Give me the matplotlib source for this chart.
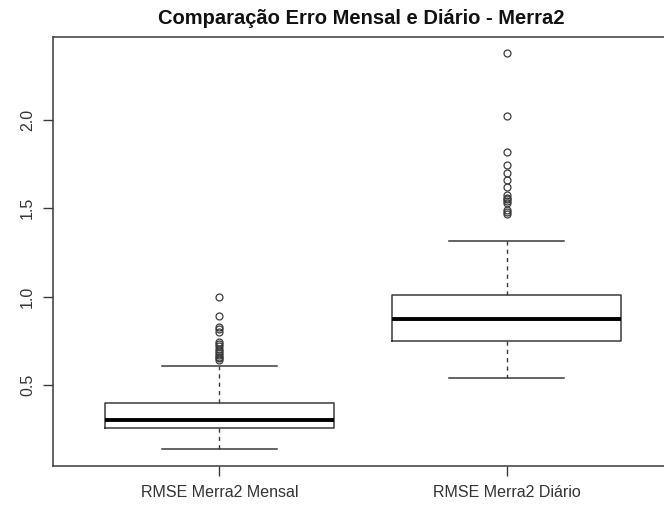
import matplotlib
matplotlib.use("Agg")
import matplotlib.pyplot as plt

# box statistics (R boxplot)
labels = ["RMSE Merra2 Mensal", "RMSE Merra2 Diário"]
q1 = [0.255, 0.751]
med = [0.300, 0.874]
q3 = [0.400, 1.011]
whislo = [0.136, 0.540]
whishi = [0.607, 1.317]
fliers_mensal = [1.00, 0.892, 0.83, 0.815, 0.80, 0.745, 0.73, 0.72, 0.705,
                 0.69, 0.68, 0.67, 0.66, 0.65, 0.64]
fliers_diario = [2.377, 2.02, 1.82, 1.745, 1.70, 1.66, 1.62, 1.575, 1.56,
                 1.55, 1.54, 1.53, 1.49, 1.48, 1.47]
fliers = [fliers_mensal, fliers_diario]
yticks = [0.5, 1.0, 1.5, 2.0]

plt.rcParams['font.family'] = ['Liberation Sans', 'DejaVu Sans']

stats = []
for i in range(len(labels)):
    stats.append({'label': labels[i], 'q1': q1[i], 'med': med[i], 'q3': q3[i],
                  'whislo': whislo[i], 'whishi': whishi[i], 'fliers': fliers[i]})

W, H = 664, 509
fig = plt.figure(figsize=(W / 100, H / 100), dpi=100)
ax = fig.add_axes([53 / W, (H - 466) / H, (673 - 53) / W, (466 - 37) / H])

lc = '#3a3a3a'
ax.bxp(stats, positions=[1, 2], widths=0.8,
       boxprops=dict(color=lc, lw=1.1),
       medianprops=dict(color='black', lw=2.8),
       whiskerprops=dict(color=lc, lw=1.0, linestyle=(0, (3, 3))),
       capprops=dict(color=lc, lw=1.1),
       flierprops=dict(marker='o', markerfacecolor='none', markeredgecolor=lc,
                       markersize=5, markeredgewidth=0.9, linestyle='none'),
       capwidths=0.4)

ax.set_xlim(0.42, 2.58)
ax.set_ylim(0.0416, 2.469)
ax.set_yticks(yticks)
ax.set_yticklabels([f"{v:.1f}" for v in yticks], rotation=90, va='center')
ax.tick_params(axis='both', length=7, width=1, color=lc, labelcolor='#333333',
               labelsize=11.5)
ax.tick_params(axis='x', pad=7)
ax.tick_params(axis='y', pad=6)
for s in ax.spines.values():
    s.set_color(lc)
    s.set_linewidth(1.1)

fig.text(361 / W, 1 - 18 / H, "Comparação Erro Mensal e Diário - Merra2",
         ha='center', va='center', fontsize=14.5, fontweight='bold', color='#111111')

fig.savefig("out.png", dpi=100)
